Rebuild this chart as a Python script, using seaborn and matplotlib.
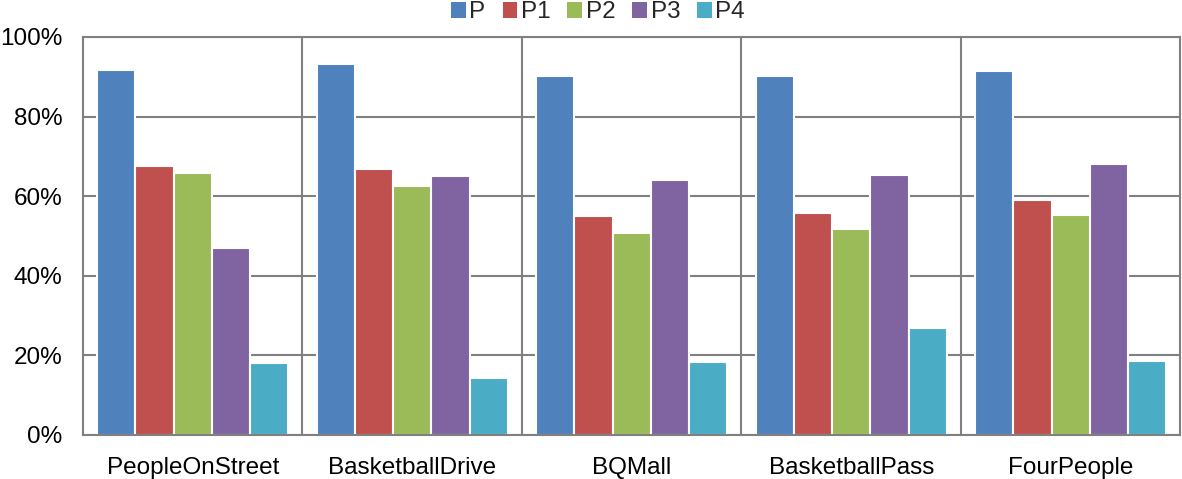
import pandas as pd
import matplotlib
matplotlib.use("Agg")
import matplotlib.pyplot as plt
import seaborn as sns
from matplotlib.patches import Patch
from matplotlib.ticker import PercentFormatter

sequences = ["PeopleOnStreet", "BasketballDrive", "BQMall", "BasketballPass", "FourPeople"]
series = ["P", "P1", "P2", "P3", "P4"]
p = [91.7, 93.2, 90.2, 90.2, 91.5]
p1 = [67.6, 66.8, 55.0, 55.8, 59.1]
p2 = [65.8, 62.6, 50.8, 51.8, 55.3]
p3 = [47.0, 65.1, 64.1, 65.3, 68.1]
p4 = [18.1, 14.3, 18.3, 26.9, 18.6]
colors = ["#4F81BD", "#C0504D", "#9BBB59", "#8064A2", "#4BACC6"]

rows = []
for name, vals in zip(series, [p, p1, p2, p3, p4]):
    for seq, v in zip(sequences, vals):
        rows.append({"seq": seq, "serie": name, "val": v})
df = pd.DataFrame(rows)

sns.set_style("white")
plt.rcParams["font.family"] = ["Liberation Sans", "DejaVu Sans"]

fig = plt.figure(figsize=(11.82, 4.79), dpi=100)
ax = fig.add_axes([0.0702, 0.0919, 0.9285, 0.8309])

sns.barplot(data=df, x="seq", y="val", hue="serie", palette=colors,
            width=0.87, edgecolor="white", linewidth=1.5, saturation=1,
            legend=False, ax=ax)

ax.set_ylim(0, 100)
ax.set_xlim(-0.5, 4.5)
ax.set_yticks([0, 20, 40, 60, 80, 100])
ax.yaxis.set_major_formatter(PercentFormatter(decimals=0))
ax.grid(axis="y", color="#808080", linewidth=1.5)
ax.set_axisbelow(True)
# separadores entre grupos
for xb in [0.5, 1.5, 2.5, 3.5]:
    ax.axvline(xb, color="#808080", linewidth=1.5, zorder=0.5)
for s in ax.spines.values():
    s.set_color("#808080")
    s.set_linewidth(1.5)
ax.tick_params(axis="both", length=0, labelsize=17.5, colors="black")
ax.tick_params(axis="y", pad=15)
ax.tick_params(axis="x", pad=16)
ax.set_xlabel("")
ax.set_ylabel("")

handles = [Patch(facecolor=c, edgecolor="none") for c in colors]
fig.legend(handles, series, loc="center", bbox_to_anchor=(0.506, 0.974),
           ncol=5, frameon=False, fontsize=17.5, handlelength=0.6,
           handleheight=0.6, handletextpad=0.15, columnspacing=0.7,
           borderpad=0.1)

fig.savefig("out.png", dpi=100)
